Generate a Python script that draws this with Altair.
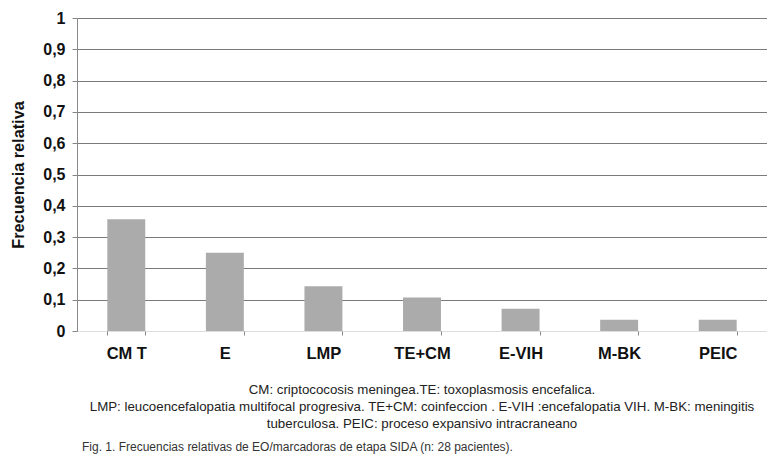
import altair as alt
import pandas as pd

categories = ["CM T", "E", "LMP", "TE+CM", "E-VIH", "M-BK", "PEIC"]
values = [0.357, 0.25, 0.143, 0.107, 0.071, 0.036, 0.036]
y_ticks = [0, 0.1, 0.2, 0.3, 0.4, 0.5, 0.6, 0.7, 0.8, 0.9, 1]
caption_lines = [
    "CM: criptococosis  meningea.TE: toxoplasmosis encefalica.",
    "LMP: leucoencefalopatia multifocal progresiva. TE+CM: coinfeccion . E-VIH :encefalopatia VIH. M-BK: meningitis",
    "tuberculosa. PEIC: proceso expansivo intracraneano",
]
fig_caption = "Fig. 1. Frecuencias relativas de EO/marcadoras de etapa SIDA (n: 28 pacientes)."

df = pd.DataFrame({"cat": categories, "val": values})
FONT = "Liberation Sans"

bars = alt.Chart(df).mark_bar(color="#ababab").encode(
    x=alt.X(
        "cat:N",
        sort=categories,
        scale=alt.Scale(paddingInner=0.615, paddingOuter=0.3075),
        axis=alt.Axis(
            title=None,
            labelAngle=0,
            labelFont=FONT,
            labelFontSize=16.5,
            labelFontWeight="bold",
            labelColor="#111",
            labelPadding=10,
            domain=False,
            ticks=True,
            tickBand="extent",
            tickSize=4,
            tickOffset=0,
            tickColor="#888",
            grid=False,
        ),
    ),
    y=alt.Y(
        "val:Q",
        scale=alt.Scale(domain=[0, 1]),
        axis=alt.Axis(
            title="Frecuencia relativa",
            titleFont=FONT,
            titleFontSize=16.3,
            titleFontWeight="bold",
            titleColor="#111",
            titlePadding=16,
            values=y_ticks,
            format="~g",
            labelExpr="replace(datum.label, '.', ',')",
            labelFont=FONT,
            labelFontSize=16,
            labelFontWeight="bold",
            labelColor="#111",
            labelPadding=7,
            tickSize=5,
            tickColor="#888",
            domainColor="#888",
            gridColor="#7a7a7a",
            gridOpacity={"condition": {"test": "datum.value === 0", "value": 0}, "value": 1},
        ),
    ),
)

cap_layers = []
for i, line in enumerate(caption_lines):
    cap_layers.append(
        alt.Chart(pd.DataFrame({"t": [line]})).mark_text(
            font=FONT, fontSize=13.3, color="#222", align="center", baseline="middle"
        ).encode(text="t:N", x=alt.value(345), y=alt.value(372 + 17 * i))
    )
fig_layer = alt.Chart(pd.DataFrame({"t": [fig_caption]})).mark_text(
    font=FONT, fontSize=12, color="#333", align="left", baseline="middle"
).encode(text="t:N", x=alt.value(5), y=alt.value(429))

chart = alt.layer(bars, *cap_layers, fig_layer).properties(
    width=690,
    height=313,
    autosize=alt.AutoSizeParams(type="none"),
    padding={"left": 69, "top": 10, "right": 0, "bottom": 130},
).configure_view(stroke=None).configure(background="white")

chart.save("out.html", embed_options={"renderer": "svg", "actions": False})
